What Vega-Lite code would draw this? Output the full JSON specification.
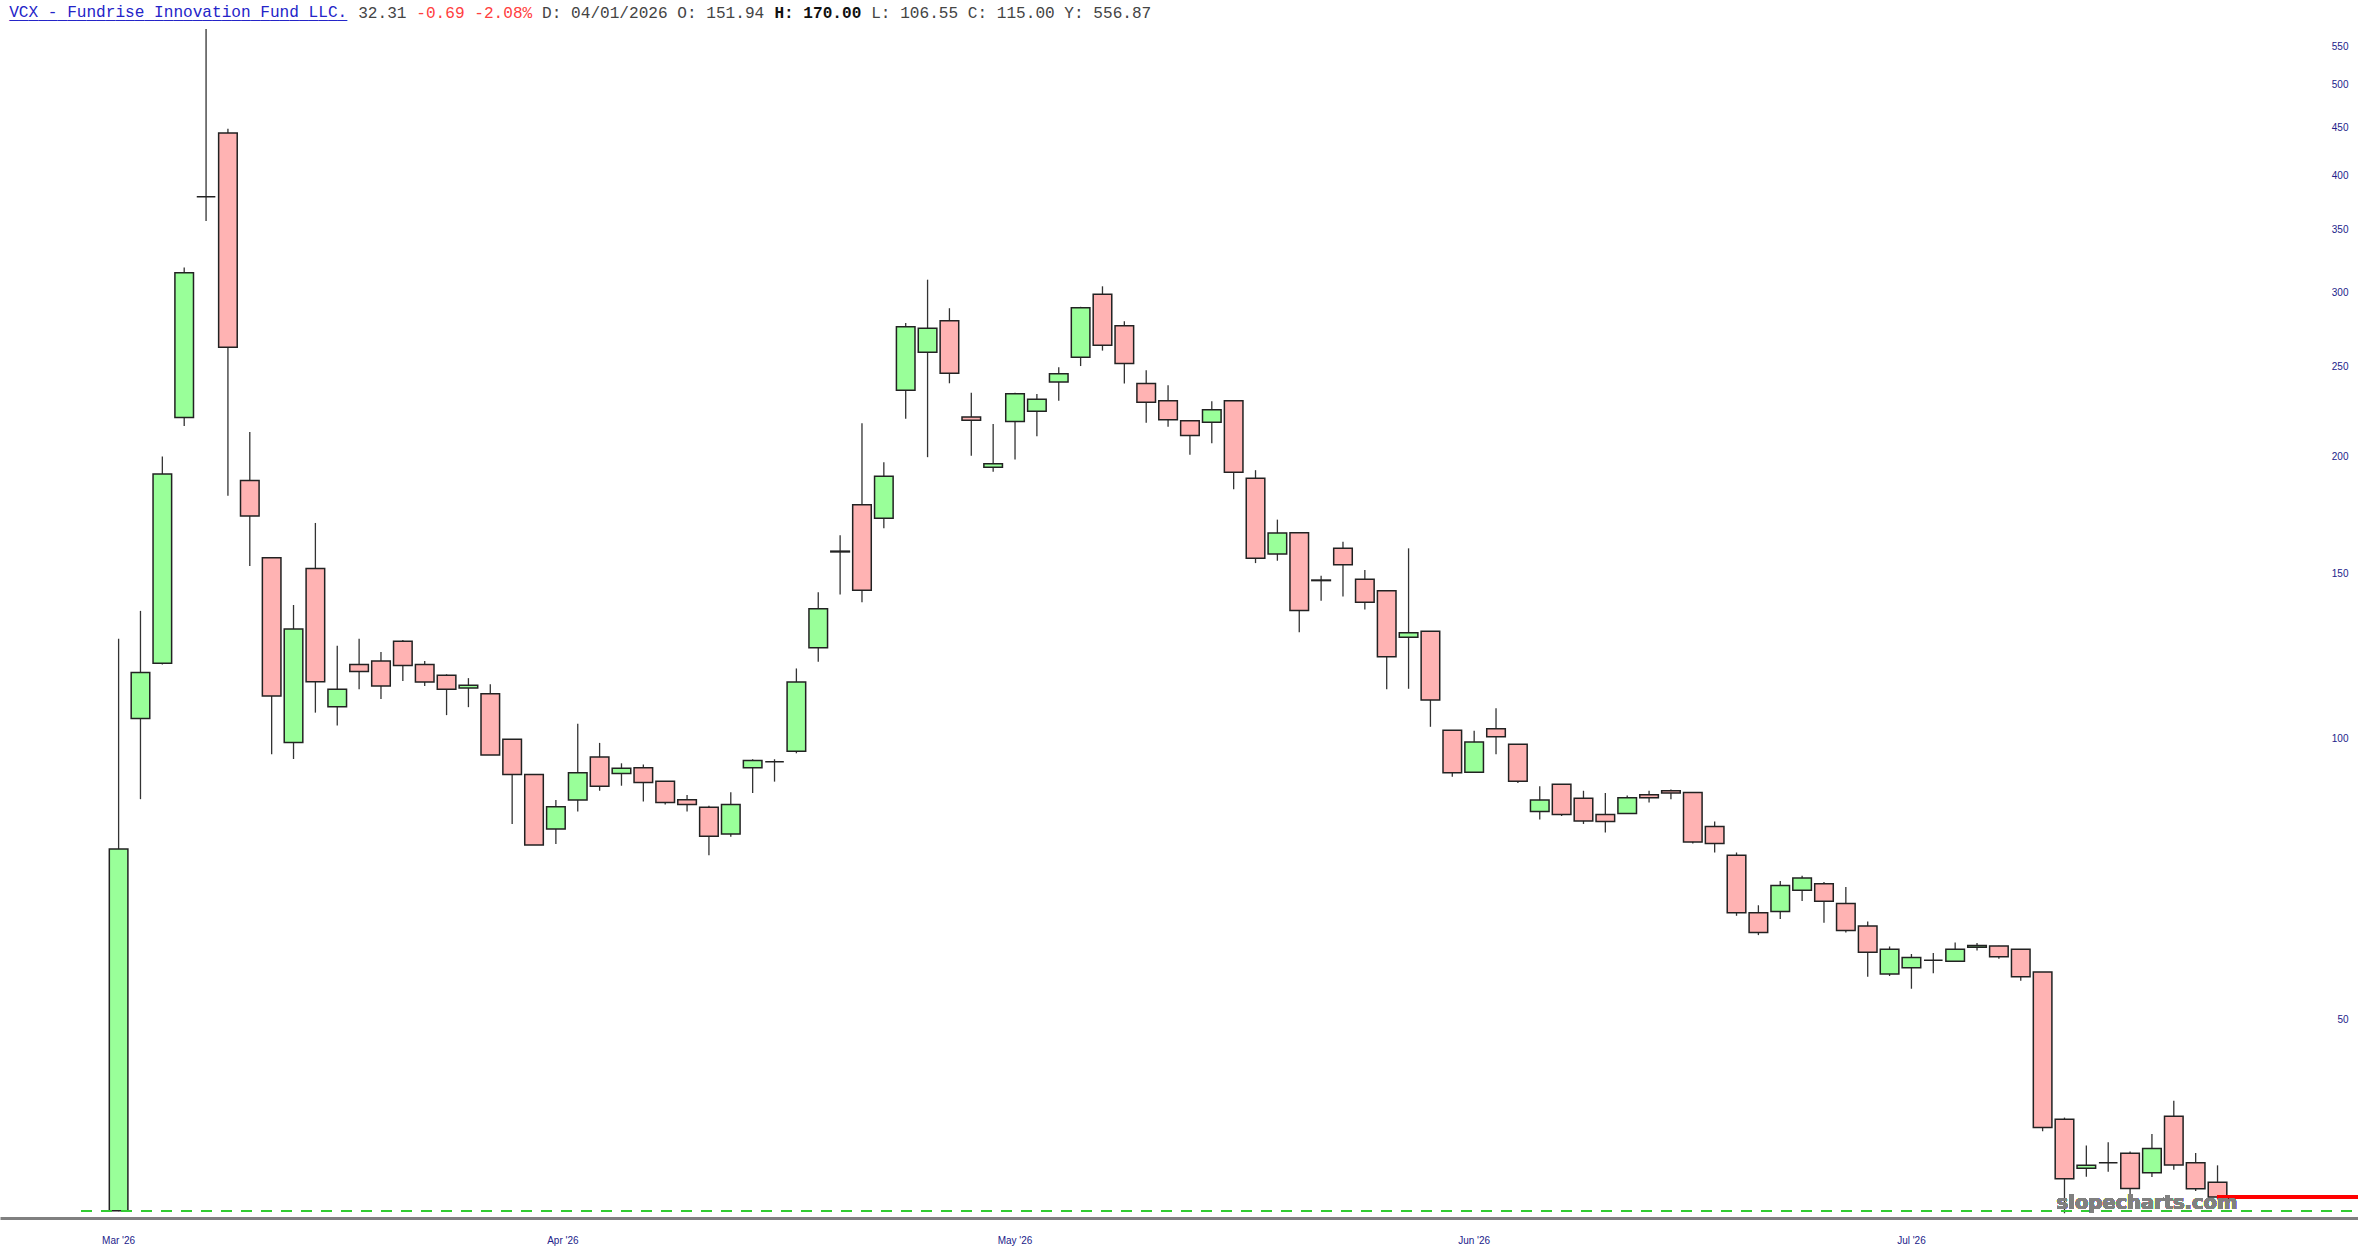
{
  "$schema": "https://vega.github.io/schema/vega-lite/v6.json",
  "width": 2358,
  "height": 1191,
  "autosize": {"type": "none"},
  "padding": {"left": 0, "top": 27, "right": 0, "bottom": 42},
  "background": "white",
  "title": {
    "text": ["VCX - Fundrise Innovation Fund LLC.", "___________________________________"],
    "anchor": "start",
    "frame": "group",
    "dx": 9.2,
    "offset": -18,
    "font": "Liberation Mono",
    "fontSize": 16.1,
    "fontWeight": "normal",
    "color": "#2424c8",
    "lineHeight": 2
  },
  "config": {"view": {"stroke": null}},
  "resolve": {"axis": {"x": "independent", "y": "independent"}},
  "data": {"values": [
    {"date":"2026-03-19","o":31.24,"h":127.8,"l":31.2,"c":76.15},
    {"date":"2026-03-20","o":105.0,"h":136.9,"l":86.1,"c":117.6},
    {"date":"2026-03-23","o":120.3,"h":200.2,"l":120.0,"c":191.8},
    {"date":"2026-03-24","o":220.4,"h":319.0,"l":215.9,"c":314.8},
    {"date":"2026-03-25","o":379.6,"h":573.8,"l":357.7,"c":379.6},
    {"date":"2026-03-26","o":444.2,"h":448.9,"l":181.8,"c":262.0},
    {"date":"2026-03-27","o":188.7,"h":212.7,"l":152.9,"c":172.9},
    {"date":"2026-03-30","o":156.0,"h":156.0,"l":96.2,"c":111.0},
    {"date":"2026-03-31","o":99.0,"h":138.9,"l":95.05,"c":130.9},
    {"date":"2026-04-01","o":151.94,"h":170.0,"l":106.55,"c":115.0},
    {"date":"2026-04-02","o":108.1,"h":125.6,"l":103.2,"c":112.9},
    {"date":"2026-04-06","o":120.0,"h":127.8,"l":112.9,"c":117.9},
    {"date":"2026-04-07","o":121.0,"h":123.7,"l":110.2,"c":113.8},
    {"date":"2026-04-08","o":127.0,"h":127.4,"l":115.2,"c":119.7},
    {"date":"2026-04-09","o":120.0,"h":121.0,"l":113.8,"c":114.9},
    {"date":"2026-04-10","o":116.8,"h":117.1,"l":105.9,"c":112.9},
    {"date":"2026-04-13","o":113.2,"h":116.0,"l":108.0,"c":114.0},
    {"date":"2026-04-14","o":111.6,"h":114.3,"l":96.0,"c":96.0},
    {"date":"2026-04-15","o":99.8,"h":99.8,"l":81.0,"c":91.5},
    {"date":"2026-04-16","o":91.5,"h":91.5,"l":76.9,"c":76.9},
    {"date":"2026-04-17","o":80.0,"h":85.9,"l":77.1,"c":84.5},
    {"date":"2026-04-20","o":85.9,"h":103.7,"l":83.5,"c":91.9},
    {"date":"2026-04-21","o":95.5,"h":98.9,"l":87.9,"c":88.9},
    {"date":"2026-04-22","o":91.7,"h":94.05,"l":89.0,"c":92.9},
    {"date":"2026-04-23","o":93.0,"h":93.8,"l":85.6,"c":89.7},
    {"date":"2026-04-24","o":90.0,"h":90.0,"l":85.0,"c":85.4},
    {"date":"2026-04-27","o":86.0,"h":87.0,"l":83.5,"c":85.0},
    {"date":"2026-04-28","o":84.4,"h":84.7,"l":75.0,"c":78.6},
    {"date":"2026-04-29","o":79.0,"h":87.6,"l":78.5,"c":85.0},
    {"date":"2026-04-30","o":93.0,"h":95.0,"l":87.4,"c":94.7},
    {"date":"2026-05-01","o":94.4,"h":95.0,"l":89.9,"c":94.4},
    {"date":"2026-05-04","o":96.9,"h":118.8,"l":96.4,"c":114.9},
    {"date":"2026-05-05","o":125.0,"h":143.3,"l":120.8,"c":137.6},
    {"date":"2026-05-06","o":158.3,"h":164.9,"l":142.5,"c":158.6},
    {"date":"2026-05-07","o":177.8,"h":217.3,"l":139.8,"c":144.0},
    {"date":"2026-05-08","o":172.0,"h":197.4,"l":167.8,"c":190.7},
    {"date":"2026-05-11","o":235.7,"h":278.2,"l":219.8,"c":275.7},
    {"date":"2026-05-12","o":258.8,"h":309.5,"l":199.9,"c":274.6},
    {"date":"2026-05-13","o":279.8,"h":288.5,"l":239.8,"c":245.8},
    {"date":"2026-05-14","o":220.7,"h":234.3,"l":200.6,"c":218.9},
    {"date":"2026-05-15","o":195.0,"h":216.9,"l":192.9,"c":196.7},
    {"date":"2026-05-18","o":218.2,"h":234.3,"l":198.7,"c":233.7},
    {"date":"2026-05-19","o":223.8,"h":233.6,"l":210.5,"c":230.5},
    {"date":"2026-05-20","o":240.6,"h":249.4,"l":229.7,"c":245.5},
    {"date":"2026-05-21","o":255.7,"h":289.5,"l":250.2,"c":288.9},
    {"date":"2026-05-22","o":298.6,"h":304.5,"l":259.9,"c":263.3},
    {"date":"2026-05-26","o":276.3,"h":279.4,"l":239.6,"c":251.7},
    {"date":"2026-05-27","o":239.6,"h":247.6,"l":217.6,"c":228.8},
    {"date":"2026-05-28","o":229.7,"h":238.6,"l":215.5,"c":219.2},
    {"date":"2026-05-29","o":218.7,"h":218.7,"l":201.1,"c":210.8},
    {"date":"2026-06-01","o":217.8,"h":229.4,"l":206.9,"c":224.7},
    {"date":"2026-06-02","o":229.7,"h":230.0,"l":184.7,"c":192.6},
    {"date":"2026-06-03","o":189.8,"h":193.6,"l":154.0,"c":155.8},
    {"date":"2026-06-04","o":157.5,"h":171.4,"l":154.9,"c":165.8},
    {"date":"2026-06-05","o":166.0,"h":166.0,"l":129.9,"c":137.0},
    {"date":"2026-06-08","o":147.5,"h":149.3,"l":140.4,"c":147.7},
    {"date":"2026-06-09","o":159.7,"h":162.3,"l":141.8,"c":153.4},
    {"date":"2026-06-10","o":148.0,"h":151.4,"l":137.4,"c":139.8},
    {"date":"2026-06-11","o":143.9,"h":143.9,"l":112.9,"c":122.3},
    {"date":"2026-06-12","o":128.3,"h":159.7,"l":113.0,"c":129.7},
    {"date":"2026-06-15","o":130.2,"h":130.2,"l":102.9,"c":109.9},
    {"date":"2026-06-16","o":102.0,"h":102.0,"l":91.0,"c":91.9},
    {"date":"2026-06-17","o":92.0,"h":101.9,"l":91.9,"c":99.1},
    {"date":"2026-06-18","o":102.4,"h":107.7,"l":96.2,"c":100.4},
    {"date":"2026-06-22","o":98.6,"h":98.6,"l":89.6,"c":90.0},
    {"date":"2026-06-23","o":83.5,"h":88.9,"l":81.9,"c":85.9},
    {"date":"2026-06-24","o":89.3,"h":89.3,"l":82.6,"c":82.9},
    {"date":"2026-06-25","o":86.3,"h":87.9,"l":81.0,"c":81.6},
    {"date":"2026-06-26","o":82.9,"h":87.4,"l":79.3,"c":81.5},
    {"date":"2026-06-29","o":83.1,"h":86.9,"l":83.1,"c":86.4},
    {"date":"2026-06-30","o":87.05,"h":87.9,"l":85.4,"c":86.4},
    {"date":"2026-07-01","o":87.9,"h":88.2,"l":86.1,"c":87.4},
    {"date":"2026-07-02","o":87.5,"h":87.5,"l":77.2,"c":77.5},
    {"date":"2026-07-06","o":80.5,"h":81.5,"l":75.5,"c":77.2},
    {"date":"2026-07-07","o":75.0,"h":75.5,"l":64.6,"c":65.1},
    {"date":"2026-07-08","o":65.1,"h":66.3,"l":61.6,"c":62.0},
    {"date":"2026-07-09","o":65.3,"h":70.4,"l":64.1,"c":69.6},
    {"date":"2026-07-10","o":68.8,"h":71.3,"l":67.0,"c":70.9},
    {"date":"2026-07-13","o":69.9,"h":70.2,"l":63.5,"c":66.95},
    {"date":"2026-07-14","o":66.6,"h":69.35,"l":62.0,"c":62.3},
    {"date":"2026-07-15","o":63.0,"h":63.7,"l":55.6,"c":59.05},
    {"date":"2026-07-16","o":55.97,"h":59.9,"l":55.7,"c":59.5},
    {"date":"2026-07-17","o":56.85,"h":58.8,"l":53.98,"c":58.3},
    {"date":"2026-07-20","o":57.9,"h":58.95,"l":56.07,"c":57.9},
    {"date":"2026-07-21","o":57.75,"h":60.5,"l":57.75,"c":59.5},
    {"date":"2026-07-22","o":59.8,"h":60.4,"l":59.3,"c":60.05},
    {"date":"2026-07-23","o":59.97,"h":60.0,"l":58.1,"c":58.4},
    {"date":"2026-07-24","o":59.5,"h":59.5,"l":55.06,"c":55.6},
    {"date":"2026-07-27","o":56.25,"h":56.25,"l":38.0,"c":38.35},
    {"date":"2026-07-28","o":39.13,"h":39.3,"l":31.05,"c":33.8},
    {"date":"2026-07-29","o":34.68,"h":36.7,"l":33.97,"c":34.94},
    {"date":"2026-07-30","o":35.17,"h":36.98,"l":34.4,"c":35.17},
    {"date":"2026-07-31","o":35.99,"h":36.15,"l":32.5,"c":33.0},
    {"date":"2026-08-03","o":34.31,"h":37.74,"l":33.95,"c":36.42},
    {"date":"2026-08-04","o":39.42,"h":40.97,"l":34.57,"c":34.97},
    {"date":"2026-08-05","o":35.17,"h":36.02,"l":32.8,"c":32.99},
    {"date":"2026-08-06","o":33.51,"h":34.94,"l":32.13,"c":32.31}
  ]},
  "encoding": {
    "x": {
      "field": "date",
      "type": "ordinal",
      "scale": {
        "type": "band",
        "paddingInner": 0.15,
        "paddingOuter": 0,
        "domain": [
          "2026-03-12","2026-03-13","2026-03-16","2026-03-17","2026-03-18",
          "2026-03-19","2026-03-20","2026-03-23","2026-03-24","2026-03-25","2026-03-26","2026-03-27","2026-03-30","2026-03-31",
          "2026-04-01","2026-04-02","2026-04-06","2026-04-07","2026-04-08","2026-04-09","2026-04-10","2026-04-13","2026-04-14","2026-04-15","2026-04-16","2026-04-17","2026-04-20","2026-04-21","2026-04-22","2026-04-23","2026-04-24","2026-04-27","2026-04-28","2026-04-29","2026-04-30",
          "2026-05-01","2026-05-04","2026-05-05","2026-05-06","2026-05-07","2026-05-08","2026-05-11","2026-05-12","2026-05-13","2026-05-14","2026-05-15","2026-05-18","2026-05-19","2026-05-20","2026-05-21","2026-05-22","2026-05-26","2026-05-27","2026-05-28","2026-05-29",
          "2026-06-01","2026-06-02","2026-06-03","2026-06-04","2026-06-05","2026-06-08","2026-06-09","2026-06-10","2026-06-11","2026-06-12","2026-06-15","2026-06-16","2026-06-17","2026-06-18","2026-06-22","2026-06-23","2026-06-24","2026-06-25","2026-06-26","2026-06-29","2026-06-30",
          "2026-07-01","2026-07-02","2026-07-06","2026-07-07","2026-07-08","2026-07-09","2026-07-10","2026-07-13","2026-07-14","2026-07-15","2026-07-16","2026-07-17","2026-07-20","2026-07-21","2026-07-22","2026-07-23","2026-07-24","2026-07-27","2026-07-28","2026-07-29","2026-07-30","2026-07-31",
          "2026-08-03","2026-08-04","2026-08-05","2026-08-06",
          "2026-08-07","2026-08-10","2026-08-11","2026-08-12","2026-08-13","2026-08-14"
        ]
      },
      "axis": {
        "values": ["2026-03-19", "2026-04-17", "2026-05-18", "2026-06-17", "2026-07-17"],
        "labelExpr": "utcFormat(toDate(datum.value), \"%b '%y\")",
        "labelOffset": {"condition": {"test": "datum.value === '2026-04-17'", "value": 7}, "value": 0},
        "labelAngle": 0,
        "labelFont": "Liberation Sans",
        "labelFontSize": 10,
        "labelColor": "#22228a",
        "labelPadding": 17,
        "labelOverlap": false,
        "ticks": false,
        "tickSize": 0,
        "grid": false,
        "domain": true,
        "domainColor": "#808080",
        "domainWidth": 3,
        "title": "-0.69 -2.08%",
        "titleX": 415.8,
        "titleY": -1213.7,
        "titleAlign": "left",
        "titleBaseline": "top",
        "titleFont": "Liberation Mono",
        "titleFontSize": 16.1,
        "titleFontWeight": "normal",
        "titleColor": "#ff4040"
      }
    }
  },
  "layer": [
    {
      "mark": {"type": "rule", "color": "#333333", "strokeWidth": 1.3},
      "encoding": {
        "y": {
          "field": "l",
          "type": "quantitative",
          "scale": {"type": "log", "domain": [30.69, 576.7], "nice": false, "zero": false},
          "axis": {
            "orient": "right",
            "offset": -10,
            "values": [50, 100, 150, 200, 250, 300, 350, 400, 450, 500, 550],
            "format": "d",
            "labelAlign": "right",
            "labelPadding": 0,
            "labelFont": "Liberation Sans",
            "labelFontSize": 10,
            "labelColor": "#22228a",
            "labelOverlap": false,
            "ticks": false,
            "tickSize": 0,
            "domain": false,
            "grid": false,
            "title": "H: 170.00",
            "titleX": -1574.1,
            "titleY": -22.7,
            "titleAngle": 0,
            "titleAlign": "left",
            "titleBaseline": "top",
            "titleFont": "Liberation Mono",
            "titleFontSize": 16.1,
            "titleFontWeight": "bold",
            "titleColor": "#111111"
          }
        },
        "y2": {"field": "h"}
      }
    },
    {
      "mark": {"type": "bar", "stroke": "#222222", "strokeWidth": 1.5},
      "encoding": {
        "x": {"field": "date", "type": "ordinal", "axis": null},
        "y": {"field": "o", "type": "quantitative", "axis": null},
        "y2": {"field": "c"},
        "fill": {"condition": {"test": "datum.c >= datum.o", "value": "#99ff99"}, "value": "#ffb3b3"}
      }
    },
    {
      "mark": {"type": "rule", "color": "#33cc33", "strokeWidth": 1.5, "strokeDash": [10, 10]},
      "encoding": {
        "x": {"datum": "2026-03-19", "bandPosition": -1.5, "axis": null},
        "x2": {"value": "width"},
        "y": {
          "datum": 31.24,
          "type": "quantitative",
          "axis": {
            "orient": "left",
            "labels": false,
            "ticks": false,
            "domain": false,
            "grid": false,
            "title": "32.31",
            "titleX": 357.7,
            "titleY": -22.7,
            "titleAngle": 0,
            "titleAlign": "left",
            "titleBaseline": "top",
            "titleFont": "Liberation Mono",
            "titleFontSize": 16.1,
            "titleFontWeight": "normal",
            "titleColor": "#444444"
          }
        }
      }
    },
    {
      "mark": {"type": "rule", "color": "#ff0000", "strokeWidth": 3},
      "encoding": {
        "x": {
          "datum": "2026-08-06",
          "axis": {
            "orient": "top",
            "labels": false,
            "ticks": false,
            "domain": false,
            "grid": false,
            "title": "D: 04/01/2026 O: 151.94",
            "titleX": 541.6,
            "titleY": -22.7,
            "titleAngle": 0,
            "titleAlign": "left",
            "titleBaseline": "top",
            "titleFont": "Liberation Mono",
            "titleFontSize": 16.1,
            "titleFontWeight": "normal",
            "titleColor": "#444444"
          }
        },
        "x2": {"value": "width"},
        "y": {"datum": 32.31, "type": "quantitative", "axis": null}
      }
    },
    {
      "mark": {"type": "text", "font": "DejaVu Sans", "fontWeight": "bold", "fontSize": 19.5, "color": "#808080", "opacity": 0.9, "align": "center", "baseline": "alphabetic", "dx": -5},
      "encoding": {
        "x": {"datum": "2026-08-03", "axis": null},
        "y": {
          "datum": 31.35,
          "type": "quantitative",
          "axis": {
            "orient": "left",
            "labels": false,
            "ticks": false,
            "domain": false,
            "grid": false,
            "title": "L: 106.55 C: 115.00 Y: 556.87",
            "titleX": 870.7,
            "titleY": -22.7,
            "titleAngle": 0,
            "titleAlign": "left",
            "titleBaseline": "top",
            "titleFont": "Liberation Mono",
            "titleFontSize": 16.1,
            "titleFontWeight": "normal",
            "titleColor": "#444444"
          }
        },
        "text": {"value": "slopecharts.com"}
      }
    }
  ]
}
